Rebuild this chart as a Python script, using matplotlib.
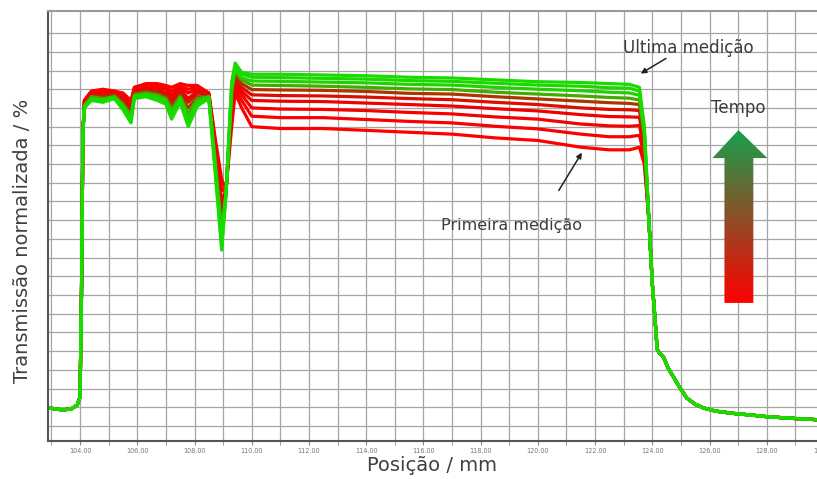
import numpy as np
import matplotlib
matplotlib.use('Agg')
import matplotlib.pyplot as plt
from matplotlib.colors import LinearSegmentedColormap
from matplotlib.patches import Polygon

# baseline + rising edge (same for every measurement)
x_left = [102.88, 103.1, 103.4, 103.7, 103.9, 104.0, 104.05, 104.1]
y_left = [4.9, 4.6, 4.3, 4.6, 5.6, 7.8, 35, 78]

# part where the measurements differ
x_mid = [104.15, 104.4, 104.8, 105.2, 105.5, 105.78, 105.9, 106.3, 106.7, 107.0,
         107.2, 107.5, 107.78, 108.1, 108.5, 108.72, 108.95, 109.1, 109.3, 109.42,
         109.65, 110.0, 111.0, 112.5, 114.0, 115.5, 117.0, 118.5, 120.0, 121.5,
         122.5, 123.2, 123.55, 123.72]

# first measurement (red) ... last measurement (green)
curves = [
    [87, 89.5, 90, 89.5, 89, 87, 90.5, 91.5, 91.5, 91, 90.5, 91.5, 91, 91, 89,
     77, 66, 63, 80, 89, 85,
     80, 79.5, 79.5, 79, 78.5, 78, 77, 76.3, 74.5, 73.8, 73.8, 74.5, 70],
    [87, 89.5, 89.5, 89.5, 88.5, 86.5, 90.5, 91, 91, 90.5, 89.5, 91, 90, 90.5, 89,
     76, 63, 63, 83, 90, 87,
     82.8, 82.4, 82.4, 81.9, 81.4, 81, 80.1, 79.4, 78, 77.3, 77.3, 77.7, 72],
    [86.5, 89, 89.5, 89, 88, 86, 90, 90.5, 90.5, 90, 88.5, 90.5, 89, 90, 88.5,
     75, 60, 63, 85, 91, 88.5,
     85, 84.7, 84.6, 84.3, 83.8, 83.4, 82.6, 82, 80.7, 80.2, 80.1, 80.3, 73.6],
    [86.5, 88.5, 89, 89, 87.5, 85, 89.5, 90, 90, 89, 87.5, 90, 87.5, 89.5, 88.5,
     74, 58, 62.5, 86, 92, 89.5,
     87, 86.8, 86.7, 86.3, 85.9, 85.5, 84.8, 84.2, 83.2, 82.7, 82.6, 82.5, 75],
    [86, 88.5, 88.5, 88.5, 87, 84.5, 89, 89.5, 89.5, 88.5, 86.5, 89.5, 86.5, 89, 88.5,
     73, 56, 62.5, 87.5, 93, 90.5,
     88.5, 88.3, 88.2, 87.9, 87.5, 87.2, 86.5, 85.9, 85, 84.6, 84.5, 84.3, 76],
    [86, 88, 88, 88.5, 86.5, 83.5, 89, 89.5, 89, 88, 85.5, 88.5, 85, 88, 88,
     72, 54, 62, 88.5, 94, 91.5,
     89.9, 89.8, 89.7, 89.4, 88.9, 88.7, 88, 87.4, 86.8, 86.4, 86.2, 85.9, 77],
    [85.5, 88, 87.5, 88, 86, 83, 88.5, 89, 88.5, 87.5, 84.5, 88, 83.5, 87.5, 88,
     71, 52, 62, 89.5, 95, 92.5,
     91.1, 91, 90.8, 90.5, 90.1, 89.9, 89.2, 88.7, 88.2, 87.8, 87.6, 87.1, 77.9],
    [85.5, 87.5, 87, 88, 85.5, 82, 88, 88.5, 88, 87, 83.5, 87.5, 82, 86.5, 88,
     70, 50, 62, 90.5, 95.5, 93,
     92.2, 92.1, 91.9, 91.7, 91.3, 91.1, 90.5, 90, 89.6, 89.2, 89, 88.4, 78.7],
    [85, 87.5, 87, 87.5, 85, 81.5, 88, 88.5, 87.5, 86.5, 83, 87, 81, 86, 87.5,
     69, 48.5, 62, 91, 96, 94,
     93.2, 93.1, 92.9, 92.7, 92.3, 92.1, 91.6, 91.1, 90.8, 90.4, 90.3, 89.5, 79.4],
    [85, 87, 86.5, 87.5, 84.5, 81, 87.5, 88, 87, 86, 82, 86.5, 80, 85.5, 87.5,
     68, 47, 62, 92, 97, 94.5,
     94, 94, 93.8, 93.6, 93.2, 93, 92.5, 92, 91.8, 91.5, 91.3, 90.5, 80],
]

# falling edge + decay (same for every measurement)
x_tail = [123.88, 124.0, 124.1, 124.17, 124.25, 124.4, 124.55, 124.75, 124.9, 125.2,
          125.5, 125.8, 126.2, 126.8, 127.5, 128.0, 129.0, 130.0]
y_tail = [55, 38, 28, 20.5, 19.5, 18.3, 15.5, 13, 11, 7.5,
          5.8, 4.8, 4.0, 3.4, 2.9, 2.5, 2.0, 1.6]

xticks = list(range(104, 131, 2))

fig = plt.figure(figsize=(8.17, 4.79), dpi=100)
ax = fig.add_axes([48/817, 38/479, 776/817, 430/479])

# red for the early measurements, switching to green for the late ones
cmap = LinearSegmentedColormap.from_list(
    'tempo', [(0, '#ff0000'), (0.4, '#ee0000'), (0.55, '#b03000'),
              (0.7, '#22d000'), (1, '#18dc00')])
n = len(curves)
for i, ys in enumerate(curves):
    ax.plot(x_left + x_mid + x_tail, y_left + ys + y_tail,
            color=cmap(i / (n - 1)), lw=2.3, solid_joinstyle='round', zorder=2)

ax.set_xlim(102.88, 130.0)
ax.set_ylim(-4.0, 110.9)
ax.set_xticks(xticks)
ax.set_xticks(range(103, 131), minor=True)
ax.set_xticklabels([f'{t:.2f}' for t in xticks], fontsize=4.7, color='#777777')
ax.set_yticks(range(0, 106, 5))
ax.tick_params(axis='y', length=0, labelleft=False)
ax.tick_params(axis='x', which='both', length=3, color='#888888', pad=2)
ax.grid(True, which='both', color='#a5a5a5', lw=0.9, zorder=0)
ax.set_axisbelow(True)
for s in ['left', 'bottom']:
    ax.spines[s].set_color('#555555')
    ax.spines[s].set_linewidth(1.5)
ax.spines['top'].set_color('#9a9a9a')
ax.spines['top'].set_linewidth(1.5)
ax.spines['right'].set_visible(False)

ax.set_xlabel('Posição / mm', fontsize=14, color='#404040')
ax.xaxis.set_label_coords(0.495, -0.035)
ax.set_ylabel('Transmissão normalizada / %', fontsize=14, color='#404040')
ax.yaxis.set_label_coords(-0.02, 0.465)

# annotations
txt = dict(color='#3c3c3c', ha='center', va='center', zorder=5)
ax.text(125.26, 101.0, 'Ultima medição', fontsize=12, **txt)
ax.text(119.07, 53.7, 'Primeira medição', fontsize=11.5, **txt)
ax.text(127.01, 85.0, 'Tempo', fontsize=12, **txt)
arr = dict(arrowstyle='-|>', color='#222222', lw=1.1, mutation_scale=8)
ax.annotate('', xy=(123.51, 93.8), xytext=(124.56, 98.6), arrowprops=arr)
ax.annotate('', xy=(121.59, 73.7), xytext=(120.68, 62.3), arrowprops=arr)

# gradient "Tempo" arrow
arrow_x = [126.52, 126.52, 126.10, 127.01, 128.02, 127.53, 127.53]
arrow_y = [32.9, 71.6, 71.6, 79.1, 71.6, 71.6, 32.9]
poly = Polygon(list(zip(arrow_x, arrow_y)), closed=True, fc='none', ec='none')
ax.add_patch(poly)
arrow_cmap = LinearSegmentedColormap.from_list('arr', ['#ff0000', '#17a04e'])
grad = np.linspace(0, 1, 256).reshape(-1, 1)
im = ax.imshow(grad, cmap=arrow_cmap, origin='lower', aspect='auto',
               extent=[126.10, 128.02, 32.9, 79.1], zorder=4)
im.set_clip_path(poly)
ax.set_xlim(102.88, 130.0)
ax.set_ylim(-4.0, 110.9)

fig.savefig('out.png', dpi=100)
